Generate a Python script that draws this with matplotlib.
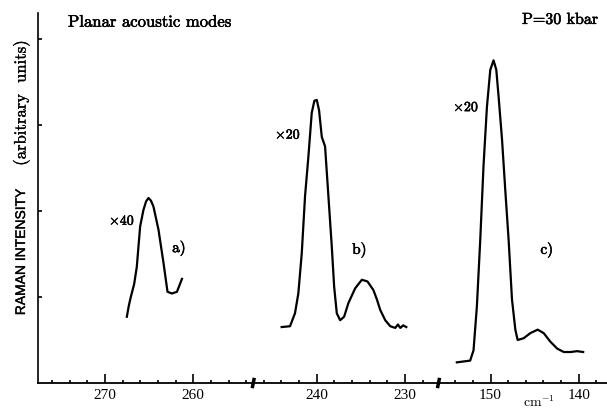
import numpy as np
import matplotlib
matplotlib.use("Agg")
import matplotlib.pyplot as plt
import matplotlib.patheffects as pe

plt.rcParams['mathtext.fontset'] = 'cm'
plt.rcParams['axes.unicode_minus'] = False

# Raman spectra, planar acoustic modes at P = 30 kbar
nu_a = [267.53, 267.30, 267.08, 266.70, 266.40, 266.20, 266.02, 265.65,
        265.35, 265.08, 264.80, 264.51, 263.94, 263.38, 262.92, 262.42,
        261.85, 261.28]
int_a = [0.77, 0.90, 1.00, 1.15, 1.35, 1.60, 1.82, 2.01,
         2.11, 2.15, 2.12, 2.05, 1.78, 1.40, 1.06, 1.04,
         1.06, 1.21]

nu_b = [243.98, 243.03, 242.47, 242.09, 241.70, 241.33, 240.95, 240.57,
        240.27, 240.00, 239.74, 239.43, 239.06, 238.68, 238.30, 238.03,
        237.73, 237.35, 236.90, 236.41, 235.65, 234.89, 234.25, 233.58,
        233.18, 232.81, 232.24, 231.67, 231.10, 230.80, 230.53, 230.20, 229.85]
int_b = [0.65, 0.66, 0.81, 1.04, 1.51, 2.17, 2.63, 3.14,
         3.28, 3.29, 3.17, 2.86, 2.75, 2.17, 1.59, 1.12,
         0.81, 0.73, 0.77, 0.93, 1.10, 1.20, 1.18, 1.08,
         0.97, 0.85, 0.73, 0.66, 0.64, 0.68, 0.64, 0.67, 0.65]

nu_c = [153.82, 153.07, 152.31, 151.93, 151.55, 151.17, 150.80, 150.41,
        150.03, 149.66, 149.35, 149.09, 148.70, 148.33, 147.95, 147.57,
        147.19, 146.93, 146.25, 145.49, 144.66, 143.98, 143.22, 142.45,
        141.70, 140.94, 140.18, 139.50]
int_c = [0.24, 0.25, 0.26, 0.38, 0.89, 1.66, 2.52, 3.21,
         3.64, 3.75, 3.64, 3.33, 2.83, 2.24, 1.66, 0.97,
         0.62, 0.50, 0.52, 0.58, 0.62, 0.58, 0.48, 0.40,
         0.36, 0.36, 0.37, 0.36]

major_ticks = [270, 260, 240, 230, 150, 140]
minor_ticks = [276, 274, 272, 268, 266, 264, 262, 258, 256, 254,
               246, 244, 242, 238, 236, 234, 232, 228,
               154, 152, 148, 146, 144, 142, 138]

# broken wavenumber axis: (start wavenumber, offset along the axis)
segments = [(277.6, 0.0), (247.2, 24.4), (155.9, 45.4)]


def to_axis(nu):
    """Map wavenumber onto the continuous broken-axis coordinate."""
    nu = np.asarray(nu, dtype=float)
    out = np.empty_like(nu)
    for i, v in enumerate(nu.flat):
        if v > 250:
            start, off = segments[0]
        elif v > 200:
            start, off = segments[1]
        else:
            start, off = segments[2]
        out.flat[i] = off + (start - v)
    return out


# slight stroke so the text looks like the scanned print
ink = [pe.withStroke(linewidth=0.4, foreground='black')]
thin_ink = [pe.withStroke(linewidth=0.25, foreground='black')]

fig = plt.figure(figsize=(6.07, 4.11), dpi=100)
ax = fig.add_axes([38 / 607, 28 / 411, 569 / 607, 370 / 411])

for nu, inten in [(nu_a, int_a), (nu_b, int_b), (nu_c, int_c)]:
    ax.plot(to_axis(nu), inten, color='black', lw=1.6, solid_joinstyle='round')

ax.set_xlim(0, 64.5)
ax.set_ylim(0, 4.3)
ax.spines['top'].set_visible(False)
ax.spines['right'].set_visible(False)
ax.spines['left'].set_linewidth(1.2)
ax.spines['bottom'].set_linewidth(1.3)

ax.set_xticks(to_axis(major_ticks))
ax.set_xticklabels([str(t) for t in major_ticks], family='Liberation Serif', fontsize=11)
ax.set_xticks(to_axis(minor_ticks), minor=True)
ax.tick_params(axis='x', which='major', direction='in', length=6.5, width=1.2, pad=4)
ax.tick_params(axis='x', which='minor', direction='in', length=2, width=1.2)
ax.set_yticks([1, 2, 3, 4])
ax.set_yticklabels([])
ax.tick_params(axis='y', direction='in', length=3, width=1.2)

# break marks on the wavenumber axis
for b in [segments[1][1], segments[2][1]]:
    ax.plot([b - 0.12, b + 0.12], [-0.06, 0.06], color='black', lw=2.5,
            clip_on=False, solid_capstyle='butt')

# scale factors and panel labels
ax.text(to_axis([269.55])[0], 1.88, r'$\times$40', fontsize=10, family='cmr10',
        va='center', path_effects=ink)
ax.text(to_axis([262.4])[0], 1.57, 'a)', fontsize=11, family='cmr10',
        va='center', path_effects=ink)
ax.text(to_axis([244.74])[0], 2.88, r'$\times$20', fontsize=10, family='cmr10',
        va='center', path_effects=ink)
ax.text(to_axis([235.99])[0], 1.55, 'b)', fontsize=11, family='cmr10',
        va='center', path_effects=ink)
ax.text(to_axis([154.24])[0], 3.20, r'$\times$20', fontsize=10, family='cmr10',
        va='center', path_effects=ink)
ax.text(to_axis([144.35])[0], 1.55, 'c)', fontsize=11, family='cmr10',
        va='center', path_effects=ink)

fig.text(68 / 607, 1 - 22 / 411, 'Planar acoustic modes', fontsize=12,
         family='cmr10', va='center', path_effects=ink)
fig.text(522 / 607, 1 - 20 / 411, 'P=30 kbar', fontsize=11.5,
         family='cmr10', va='center', path_effects=ink)
fig.text(523 / 607, 1 - 402 / 411, r'cm$^{-1}$', fontsize=10,
         family='cmr10', va='center')

fig.text(21 / 607, 1 - 252 / 411, 'RAMAN INTENSITY', rotation=90, fontsize=10,
         family='Liberation Sans', ha='center', va='center', path_effects=thin_ink)
fig.text(21 / 607, 1 - 103 / 411, '(arbitrary  units)', rotation=90, fontsize=12,
         family='cmr10', ha='center', va='center', path_effects=thin_ink)

fig.savefig('out.png', dpi=100)
